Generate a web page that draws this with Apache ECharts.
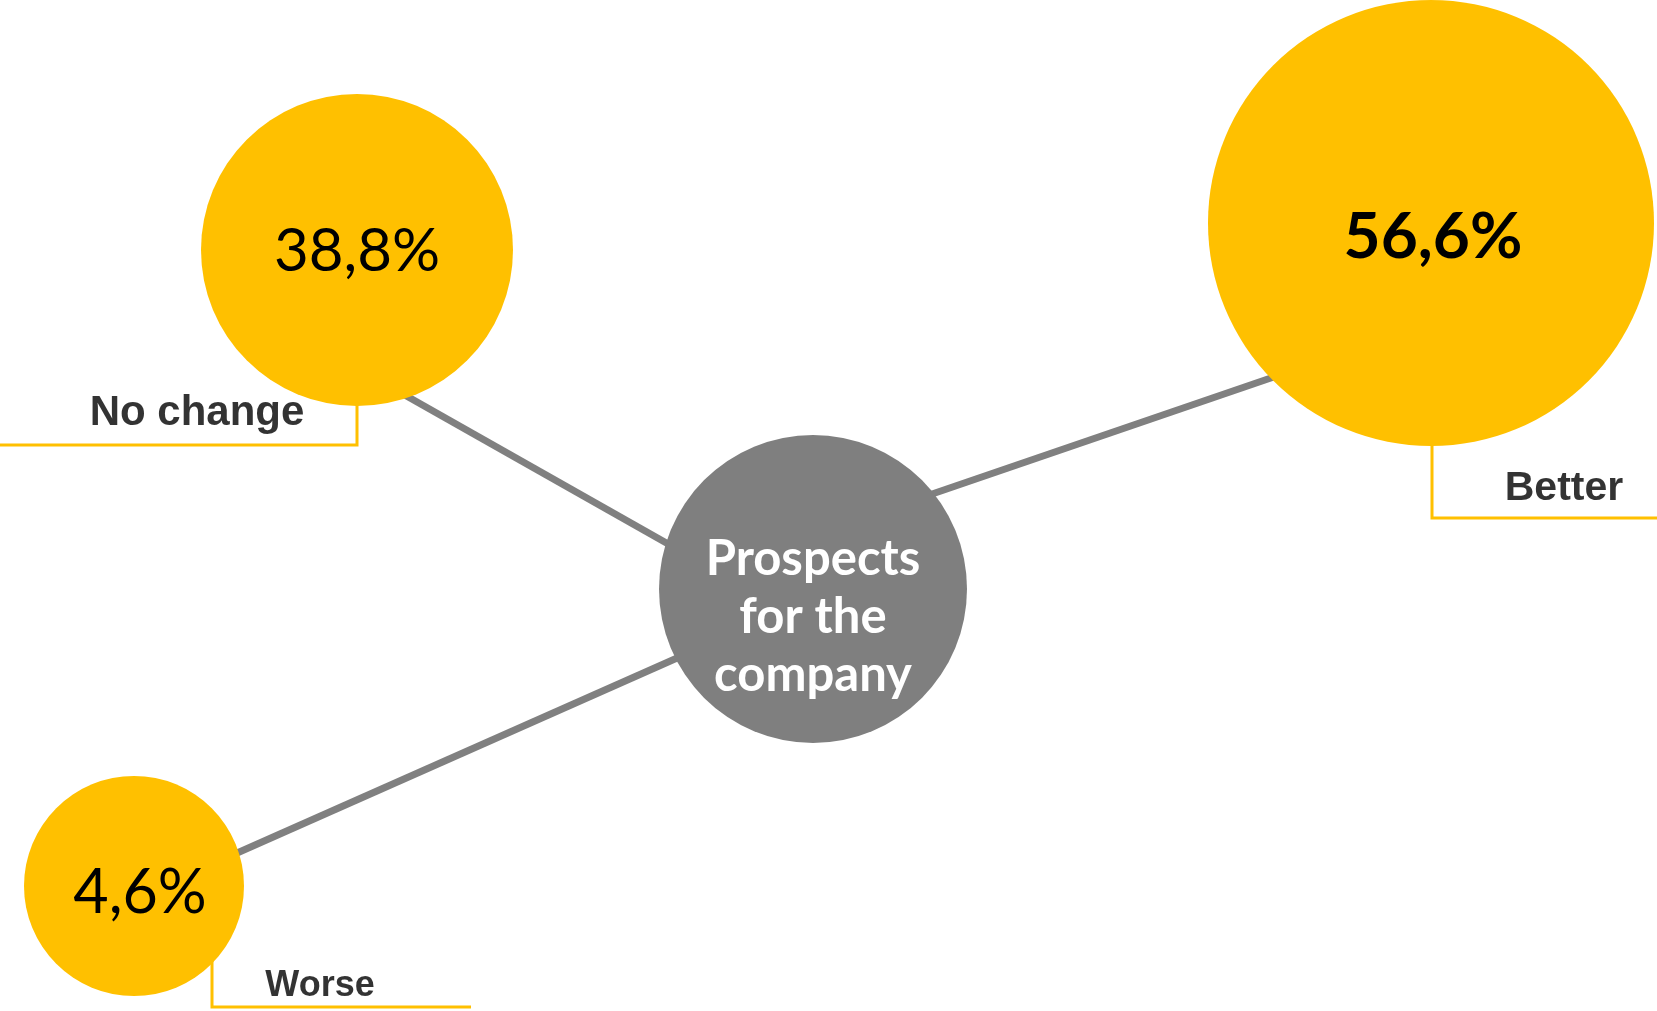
<!DOCTYPE html>
<html>
<head>
<meta charset="utf-8">
<script src="https://cdn.jsdelivr.net/npm/echarts@6/dist/echarts.min.js"></script>
<style>
  html, body { margin: 0; padding: 0; background: #fff; }
  #chart { width: 1657px; height: 1011px; }
</style>
</head>
<body>
<div id="chart"></div>
<script>
  const categories = ['Better', 'No change', 'Worse'];
  const shares = [56.6, 38.8, 4.6];
  const hubLines = ['Prospects', 'for the', 'company'];

  // where things sit on the canvas (px), kept apart from the values
  const layout = {
    hub: { x: 813, y: 589, size: 308 },
    'Better': {
      x: 1431, y: 223, size: 446, bold: true, fontSize: 64, labelOff: [2, 14],
      spoke: [[900, 505], [1300, 368]],
      callout: [[1432, 440], [1432, 518], [1657, 518]],
      tag: [1564, 489], tagSize: 41,
    },
    'No change': {
      x: 357, y: 250, size: 312, bold: false, fontSize: 60, labelOff: [0, 2],
      spoke: [[700, 562], [380, 381]],
      callout: [[357, 400], [357, 445], [0, 445]],
      tag: [197, 413], tagSize: 42,
    },
    'Worse': {
      x: 134, y: 886, size: 220, bold: false, fontSize: 61, labelOff: [6, 7],
      spoke: [[720, 639], [210, 865]],
      callout: [[212, 960], [212, 1007], [471, 1007]],
      tag: [320, 986], tagSize: 36,
    },
  };

  const YELLOW = '#FFC000';
  const GREY = '#7f7f7f';

  const fmt = (v) => v.toFixed(1).replace('.', ',') + '%';

  const chart = echarts.init(document.getElementById('chart'));
  chart.setOption({
    animation: false,
    grid: { left: 0, right: 0, top: 0, bottom: 0 },
    xAxis: { type: 'value', min: 0, max: 1657, show: false },
    yAxis: { type: 'value', min: 0, max: 1011, inverse: true, show: false },
    series: [
      {
        name: 'spokes',
        type: 'lines',
        coordinateSystem: 'cartesian2d',
        z: 1,
        lineStyle: { color: '#808080', width: 7, opacity: 1 },
        data: categories.map((c) => ({ coords: layout[c].spoke })),
      },
      {
        name: 'callouts',
        type: 'lines',
        coordinateSystem: 'cartesian2d',
        polyline: true,
        z: 1,
        lineStyle: { color: YELLOW, width: 3, opacity: 1 },
        data: categories.map((c) => ({ coords: layout[c].callout })),
      },
      {
        name: 'bubbles',
        type: 'scatter',
        z: 3,
        itemStyle: { color: YELLOW, opacity: 1 },
        data: categories.map((c, i) => ({
          name: c,
          value: [layout[c].x, layout[c].y, shares[i]],
          symbolSize: layout[c].size,
          label: {
            show: true,
            position: 'inside',
            formatter: fmt(shares[i]),
            color: '#000',
            fontFamily: 'Lato',
            fontSize: layout[c].fontSize,
            fontWeight: layout[c].bold ? 'bold' : 'normal',
            offset: layout[c].labelOff,
          },
        })),
      },
      {
        name: 'hub',
        type: 'scatter',
        z: 3,
        itemStyle: { color: GREY, opacity: 1 },
        symbolSize: layout.hub.size,
        data: [[layout.hub.x, layout.hub.y]],
        label: {
          show: true,
          position: 'inside',
          formatter: hubLines.join('\n'),
          color: '#fff',
          fontFamily: 'Lato',
          fontWeight: 'bold',
          fontSize: 49,
          lineHeight: 58,
          offset: [0, 28],
        },
      },
      {
        name: 'tags',
        type: 'scatter',
        z: 4,
        symbolSize: 0,
        itemStyle: { color: 'transparent' },
        data: categories.map((c) => ({
          value: layout[c].tag,
          label: {
            show: true,
            position: 'inside',
            formatter: c,
            color: '#000',
            fontFamily: 'Liberation Sans',
            fontWeight: 'bold',
            fontSize: layout[c].tagSize,
          },
        })),
      },
    ],
  });
</script>
</body>
</html>
